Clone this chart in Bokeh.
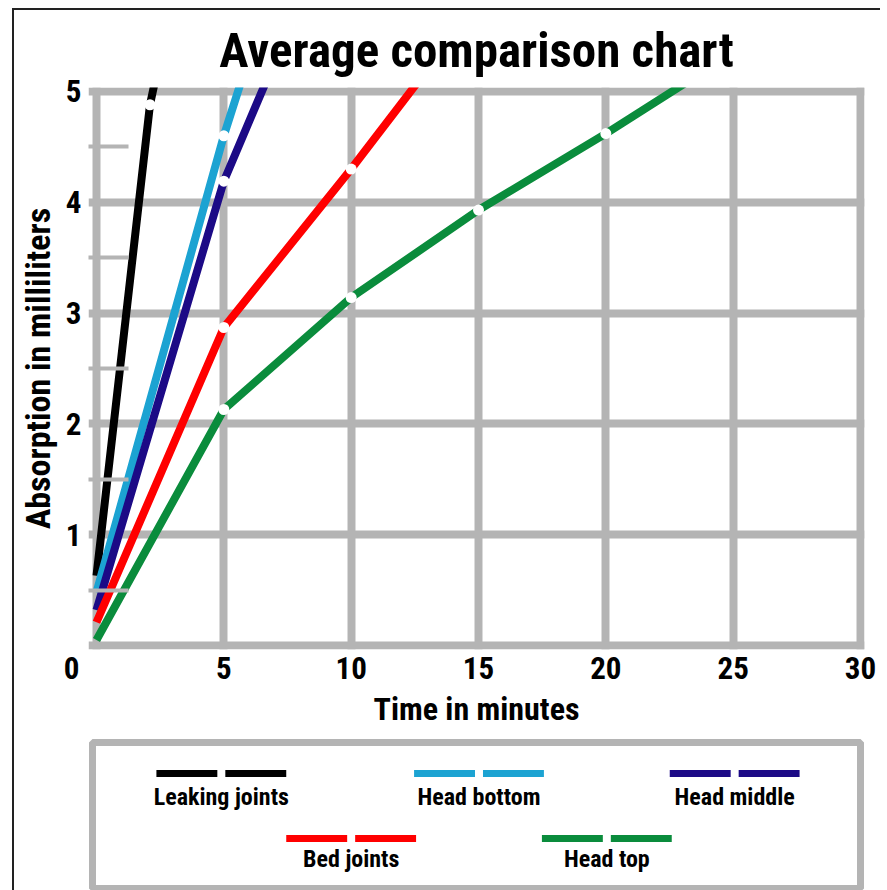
from bokeh.plotting import figure
from bokeh.models import Range1d, FixedTicker, ColumnDataSource
from bokeh.layouts import column
from bokeh.embed import file_html
from bokeh.resources import INLINE
from bokeh.core.properties import value

# ---------------- data ----------------
title_text = "Average comparison chart"
x_label = "Time in minutes"
y_label = "Absorption in milliliters"

x_ticks = [0, 5, 10, 15, 20, 25, 30]
y_ticks = [0, 1, 2, 3, 4, 5]
y_minor_ticks = [0.5, 1.5, 2.5, 3.5, 4.5]

series_names = ["Leaking joints", "Head bottom", "Head middle", "Bed joints", "Head top"]
series_colors = ["#000000", "#1ca3d2", "#1c0a86", "#ff0000", "#0a8c3c"]

leaking_t = [0, 2.1, 5]
leaking_v = [0.63, 4.88, 8.0]
head_bottom_t = [0, 5, 10]
head_bottom_v = [0.48, 4.6, 8.2]
head_middle_t = [0, 5, 10]
head_middle_v = [0.32, 4.19, 6.9]
bed_t = [0, 5, 10, 15]
bed_v = [0.21, 2.87, 4.30, 5.8]
head_top_t = [0, 5, 10, 15, 20, 25]
head_top_v = [0.05, 2.13, 3.14, 3.93, 4.62, 5.35]

series_t = [leaking_t, head_bottom_t, head_middle_t, bed_t, head_top_t]
series_v = [leaking_v, head_bottom_v, head_middle_v, bed_v, head_top_v]

# ---------------- style ----------------
FONT = "Roboto Condensed, Liberation Sans Narrow, Liberation Sans, Arial, sans-serif"
GRID = "#b4b4b4"
NB = "\u00a0"

# frame is a few pixels larger than the 0..30 / 0..5 box so the thick border
# gridlines at the ends are fully visible
XPAD_L, XPAD_R = 8 / 25.5, 4 / 25.5
YPAD = 4 / 112.0

p = figure(width=866, height=725,
           x_range=Range1d(0 - XPAD_L, 30 + XPAD_R), y_range=Range1d(0 - YPAD, 5 + YPAD),
           output_backend="svg", toolbar_location=None,
           min_border_left=73, min_border_right=16, min_border_top=71, min_border_bottom=86)

p.title.text = title_text
p.title.align = "center"
p.title.text_font = FONT
p.title.text_font_size = "49px"
p.title.text_font_style = "bold"
p.title.text_color = "#000000"
p.title.standoff = 18

p.outline_line_color = None

p.xaxis.ticker = FixedTicker(ticks=x_ticks)
p.yaxis.ticker = FixedTicker(ticks=y_ticks, minor_ticks=y_minor_ticks)
# shared origin "0" sits at the corner, left of the x tick
p.xaxis.major_label_overrides = {0: "0" + NB * 7}
p.yaxis.major_label_overrides = {0: ""}

for ax in (p.xaxis[0], p.yaxis[0]):
    ax.axis_line_color = None
    ax.major_tick_line_color = None
    ax.major_tick_in = 0
    ax.major_tick_out = 0
    ax.major_label_text_font = FONT
    ax.major_label_text_font_size = "31px"
    ax.major_label_text_font_style = "bold"
    ax.major_label_text_color = "#000000"
    ax.axis_label_text_font = FONT
    ax.axis_label_text_font_style = "bold"
    ax.axis_label_text_color = "#000000"

p.xaxis.axis_label_text_font_size = "32px"
p.yaxis.axis_label_text_font_size = "34px"

p.xaxis.minor_tick_line_color = None
p.yaxis.minor_tick_line_color = GRID
p.yaxis.minor_tick_line_width = 4
p.yaxis.minor_tick_in = 40
p.yaxis.minor_tick_out = 0

p.xaxis.axis_label = x_label
p.yaxis.axis_label = y_label
p.xaxis.major_label_standoff = 0
p.xaxis.axis_label_standoff = 0
p.yaxis.major_label_standoff = 7
p.yaxis.axis_label_standoff = 5

p.xgrid.ticker = FixedTicker(ticks=x_ticks)
p.ygrid.ticker = FixedTicker(ticks=y_ticks)
p.grid.grid_line_color = GRID
p.grid.grid_line_width = 8

for t, v, c in zip(series_t, series_v, series_colors):
    src = ColumnDataSource(dict(t=t, v=v))
    p.line("t", "v", source=src, line_color=c, line_width=8)
    brk = ColumnDataSource(dict(t=t[1:], v=v[1:]))
    p.scatter("t", "v", source=brk, size=11, fill_color="white", line_color=None)

# ---------------- legend box (coordinates here are page pixels) ----------------
q = figure(width=866, height=155, x_range=Range1d(87, 864), y_range=Range1d(890, 735),
           output_backend="svg", toolbar_location=None,
           min_border_left=73, min_border_right=16, min_border_top=0, min_border_bottom=0,
           x_axis_location=None, y_axis_location=None)
q.grid.visible = False
q.outline_line_color = None

q.quad(left=[91], right=[860], top=[742], bottom=[888], fill_color=None,
       line_color=GRID, line_width=7)

leg_cx = [220, 478, 734, 350, 606]
leg_line_y = [773, 773, 773, 838, 838]
leg_text_y = [796, 796, 796, 858, 858]
half = 65
gap = 4
x0 = [c - half for c in leg_cx] + [c + gap for c in leg_cx]
x1 = [c - gap for c in leg_cx] + [c + half for c in leg_cx]
yy = leg_line_y + leg_line_y
cc = series_colors + series_colors
q.segment(x0=x0, y0=yy, x1=x1, y1=yy, line_color=cc, line_width=7)
q.text(x=leg_cx, y=leg_text_y, text=series_names, text_align="center", text_baseline="middle",
       text_font=value(FONT), text_font_size="24px", text_font_style="bold", text_color="#000000")

layout = column(p, q, spacing=0,
                styles={"border-left": "2px solid #222222", "border-top": "2px solid #222222",
                        "margin-left": "12px", "margin-top": "8px"})

open("out.html", "w").write(file_html(layout, INLINE))
